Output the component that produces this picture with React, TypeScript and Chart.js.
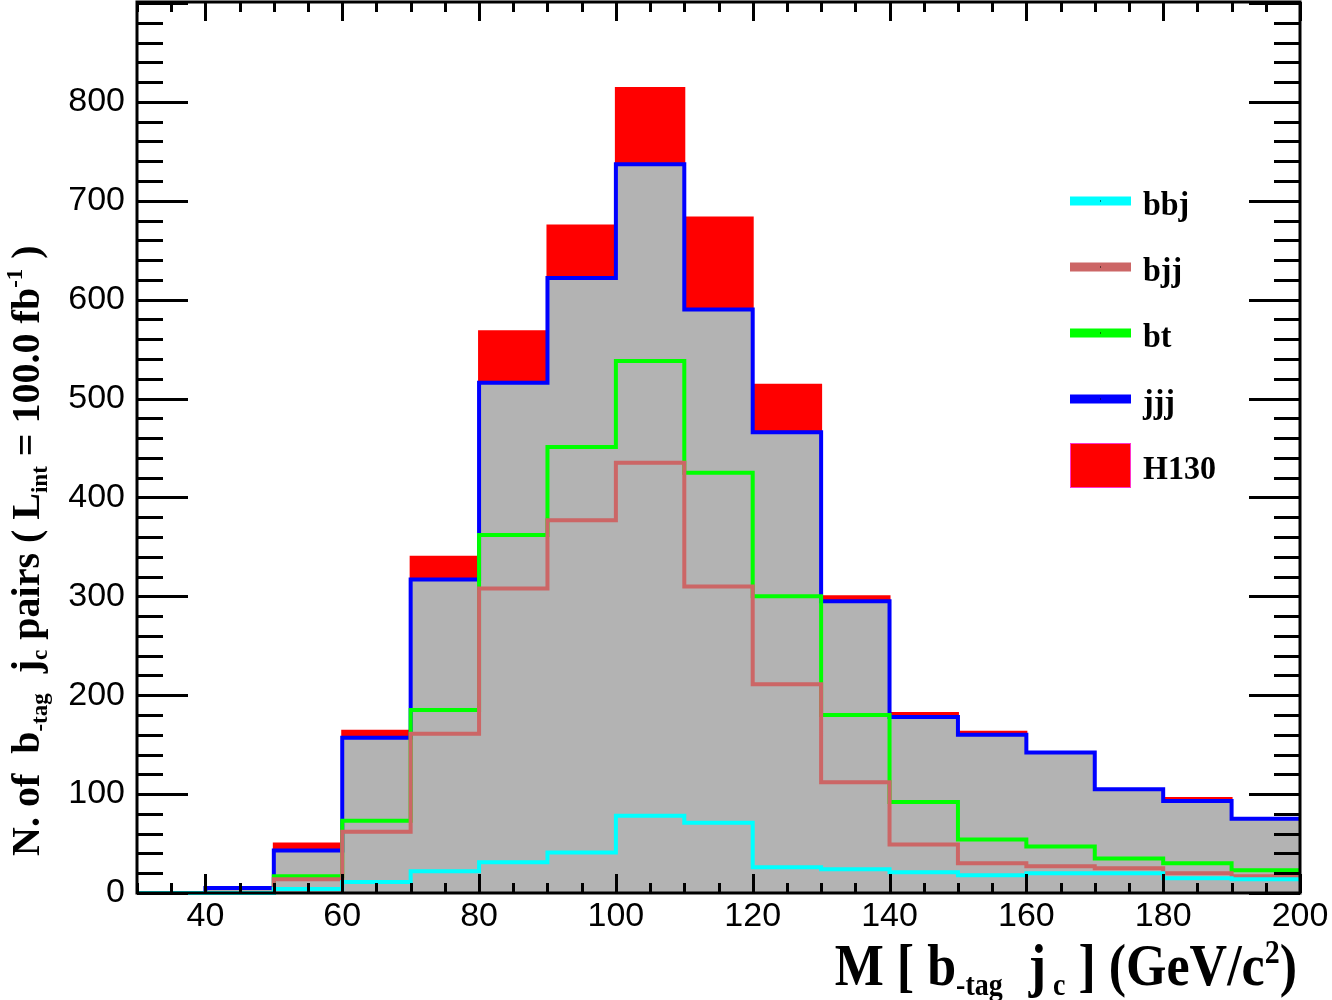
import React, { useEffect, useRef } from "react";
import { Chart, registerables } from "chart.js";

Chart.register(...registerables);

// ---- data (per-process contributions, stacked in this order) ----
const binEdges = [30, 40, 50, 60, 70, 80, 90, 100, 110, 120, 130, 140, 150, 160, 170, 180, 190, 200];
const bbjCounts = [0, 0, 4, 11, 22, 31, 41, 78, 71, 26, 24, 21, 18, 20, 20, 15, 14];
const bjjCounts = [0, 0, 10, 51, 139, 277, 336, 357, 239, 185, 88, 28, 12, 7, 5, 5, 3];
const btCounts = [0, 0, 3, 11, 24, 54, 74, 103, 115, 89, 68, 43, 24, 20, 10, 10, 6];
const jjjCounts = [0, 5, 26, 84, 132, 154, 171, 199, 165, 166, 115, 86, 106, 95, 70, 63, 52];
const h130Counts = [0, 0, 7, 7, 23, 52, 53, 77, 93, 48, 5, 4, 3, 0, 0, 3, 0];

const seriesNames = ["bbj", "bjj", "bt", "jjj", "H130"];
const seriesColors = ["#00ffff", "#cc6666", "#00ff00", "#0000ff", "#ff0000"];

const xTickValues = [40, 60, 80, 100, 120, 140, 160, 180, 200];
const yTickValues = [0, 100, 200, 300, 400, 500, 600, 700, 800];

const X_MIN = 30;
const X_MAX = 200;
const Y_MIN = 0;
const Y_MAX = 901;

const SERIF = "'Liberation Serif', 'Times New Roman', serif";
const SANS = "'Liberation Sans', Arial, Helvetica, sans-serif";

type Part = { t: string; s: number; dy: number };

function partsWidth(ctx: CanvasRenderingContext2D, parts: Part[]) {
  let w = 0;
  for (const p of parts) {
    ctx.font = `bold ${p.s}px ${SERIF}`;
    w += ctx.measureText(p.t).width;
  }
  return w;
}

function drawParts(ctx: CanvasRenderingContext2D, parts: Part[], x: number, y: number) {
  let cx = x;
  for (const p of parts) {
    ctx.font = `bold ${p.s}px ${SERIF}`;
    ctx.fillText(p.t, cx, y + p.dy);
    cx += ctx.measureText(p.t).width;
  }
}

const xTitle: Part[] = [
  { t: "M [ b", s: 52, dy: 0 },
  { t: "-tag", s: 28, dy: 9 },
  { t: "  j", s: 52, dy: 0 },
  { t: " c", s: 28, dy: 9 },
  { t: " ] (GeV/c", s: 52, dy: 0 },
  { t: "2", s: 30, dy: -19 },
  { t: ")", s: 52, dy: 0 },
];

const yTitle: Part[] = [
  { t: "N. of  b", s: 40, dy: 0 },
  { t: "-tag", s: 23, dy: 8 },
  { t: "  j", s: 40, dy: 0 },
  { t: "c", s: 23, dy: 8 },
  { t: " pairs ( L", s: 40, dy: 0 },
  { t: "int", s: 23, dy: 8 },
  { t: " = 100.0 fb", s: 40, dy: 0 },
  { t: "-1", s: 23, dy: -17 },
  { t: " )", s: 40, dy: 0 },
];

const rootStyle = {
  id: "rootStyle",
  afterDatasetsDraw(chart: any) {
    const { ctx, chartArea: a, scales } = chart;
    const xs = scales.x;
    const ys = scales.y;
    ctx.save();
    ctx.strokeStyle = "#000";
    ctx.lineWidth = 3;
    ctx.lineCap = "butt";
    ctx.beginPath();
    for (let v = X_MIN; v <= X_MAX; v += 5) {
      const px = Math.round(xs.getPixelForValue(v)) + 0.5;
      const len = v % 20 === 0 ? 19 : 10;
      ctx.moveTo(px, a.bottom);
      ctx.lineTo(px, a.bottom - len);
      ctx.moveTo(px, a.top);
      ctx.lineTo(px, a.top + len);
    }
    for (let v = 0; v <= 900; v += 20) {
      const py = Math.round(ys.getPixelForValue(v)) + 0.5;
      const len = v % 100 === 0 ? 51 : 26;
      ctx.moveTo(a.left, py);
      ctx.lineTo(a.left + len, py);
      ctx.moveTo(a.right, py);
      ctx.lineTo(a.right - len, py);
    }
    ctx.stroke();
    ctx.lineWidth = 3;
    ctx.strokeRect(a.left, a.top, a.right - a.left, a.bottom - a.top);
    ctx.restore();
  },
  afterDraw(chart: any) {
    const { ctx } = chart;
    ctx.save();
    ctx.fillStyle = "#000";
    ctx.textBaseline = "alphabetic";
    ctx.textAlign = "left";

    // x title
    const w = partsWidth(ctx, xTitle);
    ctx.save();
    ctx.translate(1297 - w, 985);
    ctx.scale(1, 1.15);
    drawParts(ctx, xTitle, 0, 0);
    ctx.restore();

    // y title
    ctx.save();
    ctx.translate(39, 856);
    ctx.rotate(-Math.PI / 2);
    drawParts(ctx, yTitle, 0, 0);
    ctx.restore();

    // legend
    const centers = [201, 267, 333, 399, 465];
    for (let i = 0; i < seriesNames.length; i++) {
      const cy = centers[i];
      if (seriesNames[i] === "H130") {
        ctx.fillStyle = seriesColors[i];
        ctx.fillRect(1070, cy - 22, 61, 45);
        ctx.strokeStyle = "#ff33cc";
        ctx.lineWidth = 1;
        ctx.strokeRect(1070.5, cy - 21.5, 60, 44);
      } else {
        ctx.fillStyle = seriesColors[i];
        ctx.fillRect(1070, cy - 4.5, 61, 9);
        ctx.fillStyle = "#000";
        ctx.fillRect(1100, cy - 0.5, 1, 1);
      }
      ctx.fillStyle = "#000";
      ctx.save();
      ctx.translate(1143, cy + 14);
      ctx.scale(1, 1.07);
      ctx.font = `bold 32px ${SERIF}`;
      ctx.fillText(seriesNames[i], 0, 0);
      ctx.restore();
    }
    ctx.restore();
  },
};

function toSteps(counts: number[]) {
  return binEdges.map((x, i) => ({ x, y: counts[Math.min(i, counts.length - 1)] }));
}

export default function App() {
  const ref = useRef<HTMLCanvasElement | null>(null);

  useEffect(() => {
    const canvas = ref.current;
    if (!canvas) return;
    const allCounts = [bbjCounts, bjjCounts, btCounts, jjjCounts, h130Counts];
    const datasets = allCounts.map((counts, i) => {
      const name = seriesNames[i];
      return {
        label: name,
        data: toSteps(counts),
        stepped: "before" as const,
        borderColor: seriesColors[i],
        borderWidth: name === "H130" ? 2 : 4,
        borderJoinStyle: "miter" as const,
        borderCapStyle: "butt" as const,
        pointRadius: 0,
        clip: { left: 0, top: 0, right: 0, bottom: 4 },
        fill: name === "jjj" ? "origin" : name === "H130" ? "-1" : false,
        backgroundColor: name === "jjj" ? "#b3b3b3" : name === "H130" ? "#ff0000" : "transparent",
      };
    });

    const tickFont = { family: SANS, size: 34, weight: "normal" as const };

    const chart = new Chart(canvas, {
      type: "line",
      data: { datasets: datasets as any },
      options: {
        animation: false,
        responsive: false,
        maintainAspectRatio: false,
        layout: { padding: { left: 0, right: 32, top: 2, bottom: 0 } },
        plugins: {
          legend: { display: false },
          tooltip: { enabled: false },
          filler: { drawTime: "beforeDatasetsDraw" } as any,
        },
        scales: {
          x: {
            type: "linear",
            min: X_MIN,
            max: X_MAX,
            grid: { display: false, drawTicks: false },
            border: { display: false },
            ticks: { font: tickFont, color: "#000", padding: 3, maxRotation: 0, autoSkip: false },
            afterBuildTicks: (s: any) => {
              s.ticks = xTickValues.map((v) => ({ value: v }));
            },
            afterFit: (s: any) => {
              s.height = 107;
              s.paddingLeft = 0;
              s.paddingRight = 0;
            },
          },
          y: {
            type: "linear",
            stacked: true,
            min: Y_MIN,
            max: Y_MAX,
            grid: { display: false, drawTicks: false },
            border: { display: false },
            ticks: { font: tickFont, color: "#000", padding: 12, autoSkip: false },
            afterBuildTicks: (s: any) => {
              s.ticks = yTickValues.map((v) => ({ value: v }));
            },
            afterFit: (s: any) => {
              s.width = 137;
              s.paddingTop = 0;
              s.paddingBottom = 0;
            },
          },
        },
      },
      plugins: [rootStyle],
    });
    return () => chart.destroy();
  }, []);

  return (
    <div style={{ position: "absolute", left: 0, top: 0, width: 1332, height: 1000, background: "#fff" }}>
      <canvas ref={ref} width={1332} height={1000} style={{ display: "block" }} />
    </div>
  );
}
